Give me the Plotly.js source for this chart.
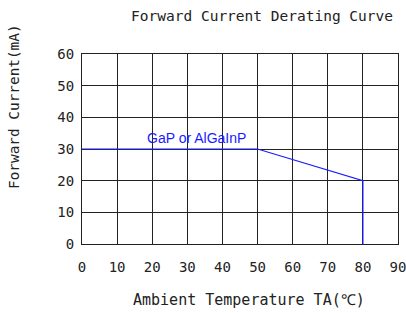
<!DOCTYPE html>
<html>
<head>
<meta charset="utf-8">
<script src="https://cdn.plot.ly/plotly-3.0.1.min.js"></script>
<style>
html,body{margin:0;padding:0;background:#fff;}
#chart{width:406px;height:313px;}
</style>
</head>
<body>
<div id="chart"></div>
<script>
// Data
const temperature = [0, 50, 80, 80];
const current = [30, 30, 20, 0];
const xTicks = [0, 10, 20, 30, 40, 50, 60, 70, 80, 90];
const yTicks = [0, 10, 20, 30, 40, 50, 60];
const seriesLabel = "GaP or AlGaInP";
const chartTitle = "Forward Current Derating Curve";
const xTitle = "Ambient Temperature TA(℃)";
const yTitle = "Forward Current(mA)";

const monoFont = "DejaVu Sans Mono";
const txtColor = "#222";

const trace = {
  x: temperature,
  y: current,
  type: "scatter",
  mode: "lines",
  line: {color: "#1a1aff", width: 1.2},
  hoverinfo: "skip",
  showlegend: false
};

const layout = {
  width: 406,
  height: 313,
  margin: {l: 82, r: 8, t: 54, b: 69},
  paper_bgcolor: "#fff",
  plot_bgcolor: "#fff",
  title: {
    text: chartTitle,
    font: {family: monoFont, size: 14.5, color: txtColor},
    xref: "container", x: 393/406, xanchor: "right",
    yref: "container", y: 1 - 16/313, yanchor: "middle"
  },
  xaxis: {
    range: [0, 90],
    tickvals: xTicks,
    ticktext: xTicks.map(String),
    ticklabeloverflow: "allow",
    showgrid: true,
    gridcolor: "#222",
    gridwidth: 1,
    showline: true,
    linecolor: "#222",
    linewidth: 1,
    mirror: true,
    zeroline: false,
    ticks: "",
    ticklabelstandoff: 10,
    tickfont: {family: monoFont, size: 14, color: txtColor},
    fixedrange: true
  },
  yaxis: {
    range: [0, 60],
    tickvals: yTicks,
    ticktext: yTicks.map(String),
    showgrid: true,
    gridcolor: "#222",
    gridwidth: 1,
    showline: true,
    linecolor: "#222",
    linewidth: 1,
    mirror: true,
    zeroline: false,
    ticks: "",
    ticklabelstandoff: 4,
    tickfont: {family: monoFont, size: 14, color: txtColor},
    fixedrange: true
  },
  annotations: [{
    x: 18, y: 30, xref: "x", yref: "y",
    text: seriesLabel,
    showarrow: false,
    xanchor: "left", yanchor: "bottom",
    yshift: 1,
    font: {family: "Liberation Sans Narrow, Liberation Sans, sans-serif", size: 14, color: "#1a1aff"}
  }, {
    x: (249-82)/316, y: (244-300)/190, xref: "paper", yref: "paper",
    xanchor: "center", yanchor: "middle",
    text: xTitle, showarrow: false,
    font: {family: monoFont, size: 15, color: txtColor}
  }, {
    x: (14-82)/316, y: (244-107)/190, xref: "paper", yref: "paper",
    xanchor: "center", yanchor: "middle", textangle: -90,
    text: yTitle, showarrow: false,
    font: {family: monoFont, size: 14.4, color: txtColor}
  }]
};

Plotly.newPlot("chart", [trace], layout, {displayModeBar: false, staticPlot: true});
</script>
</body>
</html>
